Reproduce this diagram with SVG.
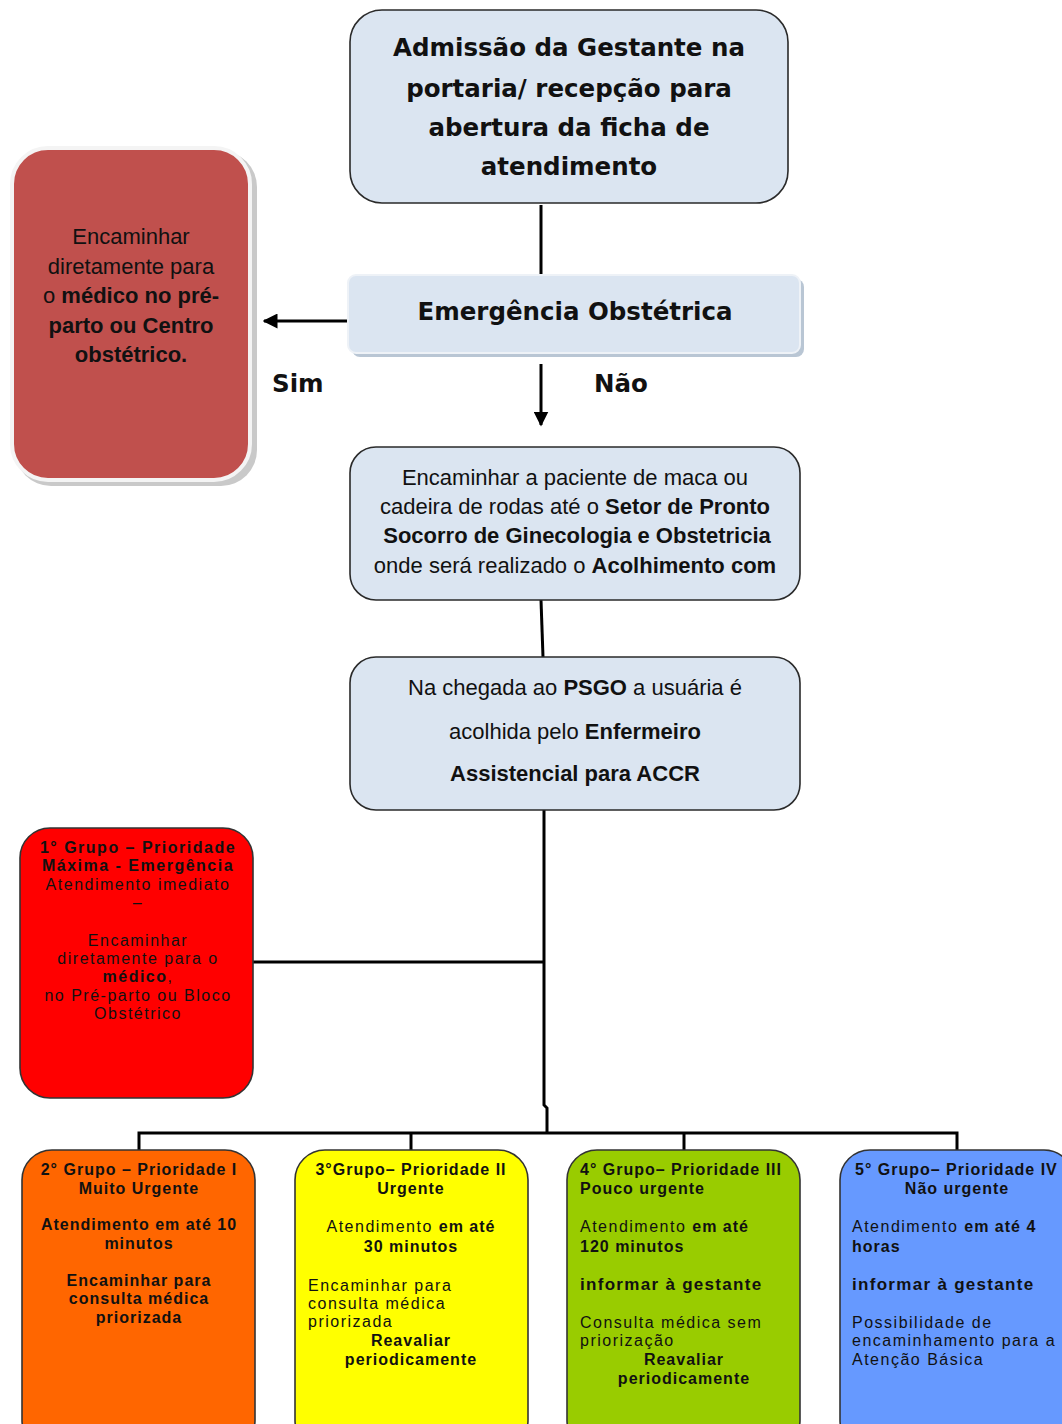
<svg xmlns="http://www.w3.org/2000/svg" width="1062" height="1424" viewBox="0 0 1062 1424">
<style>
.bg{fill:#ffffff}
.box{fill:#dbe5f1;stroke:#2a2a2a;stroke-width:1.6}
.title{font-family:"DejaVu Sans",Verdana,sans-serif;font-weight:bold;font-size:24.5px;fill:#111;text-anchor:middle}
.lbl{font-family:"DejaVu Sans",Verdana,sans-serif;font-weight:bold;font-size:24.5px;fill:#111}
.t22{font-family:"Liberation Sans",Arial,sans-serif;font-size:22px;fill:#111;text-anchor:middle}
.g{font-family:"Liberation Sans",Arial,sans-serif;font-size:16px;letter-spacing:1.5px;fill:#111}
.c{text-anchor:middle}
.b{font-weight:bold}
.g.b,.g .b{letter-spacing:1px}
#grupo1 .g.b,#grupo1 .g .b{letter-spacing:1.5px}
.g.inf{font-size:17px;letter-spacing:1.3px}
.grp{stroke:#333;stroke-width:1.6}
.ln{stroke:#000;stroke-width:3;fill:none}
</style>
<defs>
<marker id="ah" viewBox="0 0 10 10" refX="9" refY="5" markerWidth="5" markerHeight="5" orient="auto-start-reverse" markerUnits="strokeWidth">
<path d="M0,0 L10,5 L0,10 z" fill="#000"/>
</marker>
</defs>
<rect class="bg" x="0" y="0" width="1062" height="1424"/>

<g id="connectors">
<line class="ln" x1="541" y1="205" x2="541" y2="276"/>
<line class="ln" x1="348" y1="321" x2="264" y2="321" marker-end="url(#ah)"/>
<line class="ln" x1="541" y1="364" x2="541" y2="425" marker-end="url(#ah)"/>
<line class="ln" x1="541" y1="600" x2="543" y2="657"/>
<polyline class="ln" points="544,810 544,1105 547,1108 547,1133"/>
<line class="ln" x1="253" y1="962" x2="544" y2="962"/>
<polyline class="ln" points="139,1151 139,1133 957,1133 957,1151"/>
<line class="ln" x1="411" y1="1133" x2="411" y2="1151"/>
<line class="ln" x1="684" y1="1133" x2="684" y2="1151"/>
</g>

<g id="admissao">
<rect class="box" x="350" y="10" width="438" height="193" rx="32"/>
<text class="title" x="569" y="56">Admissão da Gestante na</text>
<text class="title" x="569" y="97">portaria/ recepção para</text>
<text class="title" x="569" y="136">abertura da ficha de</text>
<text class="title" x="569" y="175">atendimento</text>
</g>

<g id="emergencia">
<rect x="352" y="279" width="452" height="78" rx="8" fill="#b9c6d4"/>
<rect x="348" y="275" width="452" height="78" rx="8" fill="#dbe5f1" stroke="#eef2f7" stroke-width="2"/>
<text class="title" x="575" y="320">Emergência Obstétrica</text>
</g>

<g id="labels">
<text class="lbl" x="272" y="392">Sim</text>
<text class="lbl" x="594" y="392">Não</text>
</g>

<g id="medico">
<rect x="15" y="151" width="242" height="335" rx="36" fill="#c9c9c9"/>
<rect x="12" y="148" width="238" height="332" rx="36" fill="#c0504d" stroke="#f4f4f4" stroke-width="4"/>
<text class="t22" x="131" y="244">Encaminhar</text>
<text class="t22" x="131" y="274">diretamente para</text>
<text class="t22" x="131" y="303">o <tspan class="b">médico no pré-</tspan></text>
<text class="t22 b" x="131" y="333">parto ou Centro</text>
<text class="t22 b" x="131" y="362">obstétrico.</text>
</g>

<g id="setor">
<rect class="box" x="350" y="447" width="450" height="153" rx="26"/>
<text class="t22" x="575" y="485">Encaminhar a paciente de maca ou</text>
<text class="t22" x="575" y="514">cadeira de rodas até o <tspan class="b">Setor de Pronto</tspan></text>
<text class="t22 b" x="577" y="543">Socorro de Ginecologia e Obstetricia</text>
<text class="t22" x="575" y="573">onde será realizado o <tspan class="b">Acolhimento com</tspan></text>
</g>

<g id="psgo">
<rect class="box" x="350" y="657" width="450" height="153" rx="26"/>
<text class="t22" x="575" y="695">Na chegada ao <tspan class="b">PSGO</tspan> a usuária é</text>
<text class="t22" x="575" y="739">acolhida pelo <tspan class="b">Enfermeiro</tspan></text>
<text class="t22 b" x="575" y="781">Assistencial para ACCR</text>
</g>

<g id="grupo1">
<rect class="grp" x="20" y="828" width="233" height="270" rx="30" fill="#ff0000"/>
<text class="g c b" x="138" y="853">1° Grupo – Prioridade</text>
<text class="g c b" x="138" y="871">Máxima - Emergência</text>
<text class="g c" x="138" y="890">Atendimento imediato</text>
<text class="g c" x="138" y="908">–</text>
<text class="g c" x="138" y="946">Encaminhar</text>
<text class="g c" x="138" y="964">diretamente para o</text>
<text class="g c" x="138" y="982"><tspan class="b">médico</tspan>,</text>
<text class="g c" x="138" y="1001">no Pré-parto ou Bloco</text>
<text class="g c" x="138" y="1019">Obstétrico</text>
</g>

<g id="grupo2">
<rect class="grp" x="22" y="1150" width="233" height="300" rx="30" fill="#ff6600"/>
<text class="g c b" x="139" y="1175">2° Grupo – Prioridade I</text>
<text class="g c b" x="139" y="1194">Muito Urgente</text>
<text class="g c b" x="139" y="1230">Atendimento em até 10</text>
<text class="g c b" x="139" y="1249">minutos</text>
<text class="g c b" x="139" y="1286">Encaminhar para</text>
<text class="g c b" x="139" y="1304">consulta médica</text>
<text class="g c b" x="139" y="1323">priorizada</text>
</g>

<g id="grupo3">
<rect class="grp" x="295" y="1150" width="233" height="300" rx="30" fill="#ffff00"/>
<text class="g c b" x="411" y="1175">3°Grupo– Prioridade II</text>
<text class="g c b" x="411" y="1194">Urgente</text>
<text class="g c" x="411" y="1232">Atendimento <tspan class="b">em até</tspan></text>
<text class="g c b" x="411" y="1252">30 minutos</text>
<text class="g" x="308" y="1291">Encaminhar para</text>
<text class="g" x="308" y="1309">consulta médica</text>
<text class="g" x="308" y="1327">priorizada</text>
<text class="g c b" x="411" y="1346">Reavaliar</text>
<text class="g c b" x="411" y="1365">periodicamente</text>
</g>

<g id="grupo4">
<rect class="grp" x="567" y="1150" width="233" height="300" rx="30" fill="#99cc00"/>
<text class="g b" x="580" y="1175">4° Grupo– Prioridade III</text>
<text class="g b" x="580" y="1194">Pouco urgente</text>
<text class="g" x="580" y="1232">Atendimento <tspan class="b">em até</tspan></text>
<text class="g b" x="580" y="1252">120 minutos</text>
<text class="g b inf" x="580" y="1290">informar à gestante</text>
<text class="g" x="580" y="1328">Consulta médica sem</text>
<text class="g" x="580" y="1346">priorização</text>
<text class="g c b" x="684" y="1365">Reavaliar</text>
<text class="g c b" x="684" y="1384">periodicamente</text>
</g>

<g id="grupo5">
<rect class="grp" x="840" y="1150" width="234" height="300" rx="30" fill="#6699ff"/>
<text class="g b" x="855" y="1175">5° Grupo– Prioridade IV</text>
<text class="g c b" x="957" y="1194">Não urgente</text>
<text class="g" x="852" y="1232">Atendimento <tspan class="b">em até 4</tspan></text>
<text class="g b" x="852" y="1252">horas</text>
<text class="g b inf" x="852" y="1290">informar à gestante</text>
<text class="g" x="852" y="1328">Possibilidade de</text>
<text class="g" x="852" y="1346">encaminhamento para a</text>
<text class="g" x="852" y="1365">Atenção Básica</text>
</g>
</svg>
